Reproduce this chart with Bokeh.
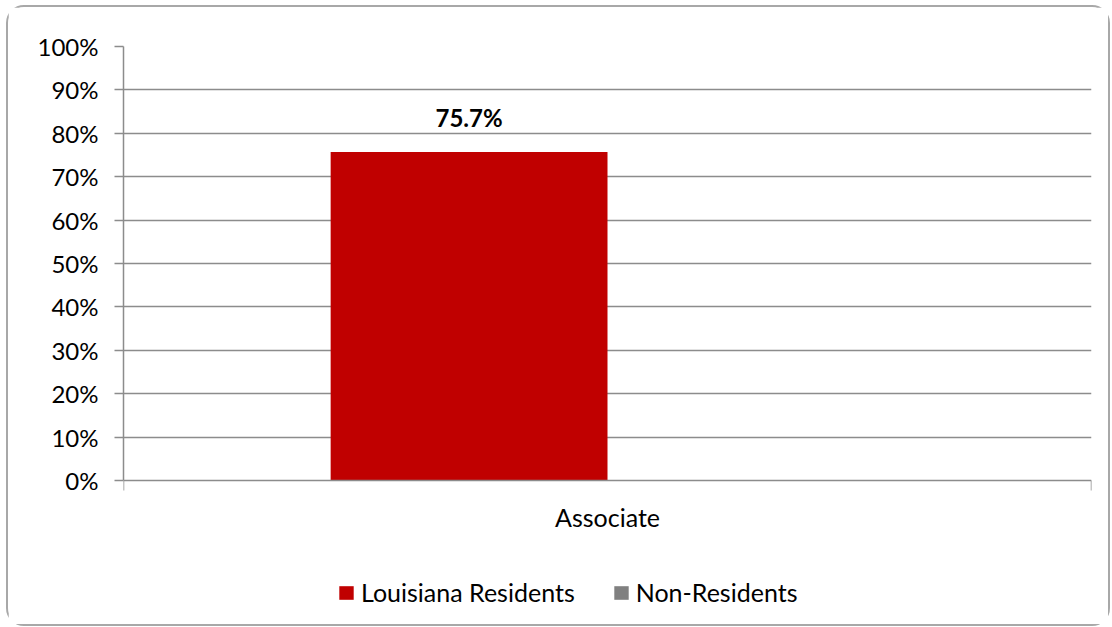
from bokeh.plotting import figure
from bokeh.models import (Range1d, FixedTicker, PrintfTickFormatter, Legend,
                          LegendItem, ColumnDataSource)
from bokeh.core.properties import value
from bokeh.embed import file_html
from bokeh.resources import INLINE

# ---- data ----
categories = ["Associate"]
series_names = ["Louisiana Residents", "Non-Residents"]
residents = [75.7]
non_residents = [float("nan")]   # no bar shown for non-residents
y_ticks = [0, 10, 20, 30, 40, 50, 60, 70, 80, 90, 100]
colors = ["#C00000", "#808080"]

FONT = "Lato"
bar_w = 0.286
offsets = [-0.143, 0.143]

# frame spans down to the legend; value 0 sits 434px below the top of the frame
H, TOP, ZERO_PX = 617, 39, 434
frame_h = H - TOP
y_start = 100 - 100 * frame_h / ZERO_PX

p = figure(width=1100, height=H, output_backend="svg", toolbar_location=None,
           x_range=Range1d(0, len(categories)), y_range=Range1d(y_start, 100),
           min_border_left=115, min_border_right=17, min_border_top=TOP,
           min_border_bottom=0)
p.styles = {"outline": "2px solid #a8a8a8", "border-radius": "16px",
            "margin-left": "8px", "margin-top": "7px"}
p.outline_line_color = None
p.background_fill_color = "white"
p.border_fill_color = "white"

centers = [i + 0.5 for i in range(len(categories))]
renderers = []
for vals, off, col in zip([residents, non_residents], offsets, colors):
    src = ColumnDataSource(dict(x=[c + off for c in centers], top=vals,
                                label=["" if v != v else f"{v:.1f}%" for v in vals]))
    r = p.vbar(x="x", top="top", bottom=0, width=bar_w, source=src,
               fill_color=col, line_color=None)
    renderers.append(r)
    p.text(x="x", y="top", text="label", source=src, text_align="center",
           text_baseline="alphabetic", y_offset=-34, text_font=value(FONT),
           text_font_size="24px", text_font_style="bold", text_color="black")

# y axis
p.yaxis.ticker = FixedTicker(ticks=y_ticks)
p.yaxis.bounds = (0, 100)
p.yaxis.formatter = PrintfTickFormatter(format="%d%%")
p.yaxis.major_label_text_font = FONT
p.yaxis.major_label_text_font_size = "24px"
p.yaxis.major_label_text_color = "black"
p.yaxis.axis_line_color = "#8c8c8c"
p.yaxis.axis_line_width = 1.5
p.yaxis.major_tick_line_color = "#8c8c8c"
p.yaxis.major_tick_line_width = 1.5
p.yaxis.major_tick_out = 9
p.yaxis.major_tick_in = 0
p.yaxis.minor_tick_line_color = None
p.yaxis.major_label_standoff = 16

# x axis, pinned at value 0
p.xaxis.fixed_location = 0
p.xaxis.ticker = FixedTicker(ticks=centers, minor_ticks=list(range(len(categories) + 1)))
p.xaxis.major_label_overrides = {c: n for c, n in zip(centers, categories)}
p.xaxis.major_label_text_font = FONT
p.xaxis.major_label_text_font_size = "25px"
p.xaxis.major_label_text_color = "black"
p.xaxis.axis_line_color = "#8c8c8c"
p.xaxis.axis_line_width = 1.5
p.xaxis.major_tick_line_color = None
p.xaxis.major_tick_out = 0
p.xaxis.major_tick_in = 0
p.xaxis.minor_tick_line_color = "#8c8c8c"
p.xaxis.minor_tick_line_width = 1.5
p.xaxis.minor_tick_out = 10
p.xaxis.minor_tick_in = 0
p.xaxis.major_label_standoff = 11

p.xgrid.grid_line_color = None
p.ygrid.grid_line_color = "#8c8c8c"
p.ygrid.grid_line_width = 1.5
p.ygrid.ticker = FixedTicker(ticks=y_ticks[1:])

legend = Legend(items=[LegendItem(label=n, renderers=[r]) for n, r in zip(series_names, renderers)],
                orientation="horizontal", location=(214, 17),
                glyph_width=18, glyph_height=17, label_standoff=6, spacing=37,
                padding=0, margin=0, border_line_color=None,
                background_fill_alpha=0, label_text_font=FONT,
                label_text_font_size="25px", label_text_color="black")
p.add_layout(legend, "center")

open("out.html", "w").write(file_html(p, INLINE))
